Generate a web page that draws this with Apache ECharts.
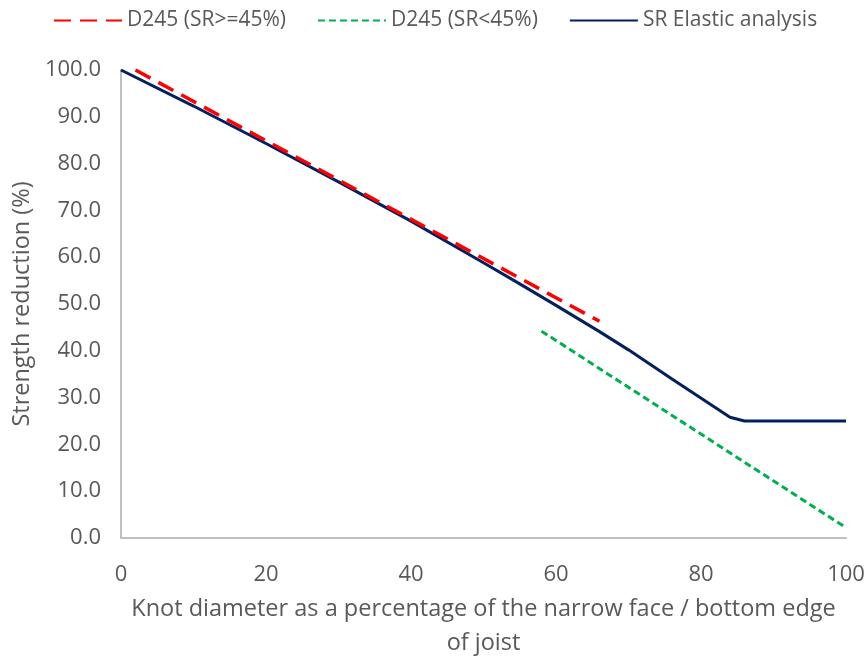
<!DOCTYPE html>
<html>
<head>
<meta charset="utf-8">
<title>Strength reduction</title>
<script src="https://cdn.jsdelivr.net/npm/echarts@6/dist/echarts.min.js"></script>
<style>
    html, body { margin: 0; padding: 0; background: #fff; }
    #chart { width: 865px; height: 657px; }
</style>
</head>
<body>
<div id="chart"></div>
<script>
// knot diameter (%) / strength reduction (%)
var seriesNames = ["D245 (SR>=45%)", "D245 (SR<45%)", "SR Elastic analysis"];
var d245HighX = [2, 66];
var d245HighY = [100, 46.3];
var d245LowX = [58, 100];
var d245LowY = [44.2, 2.2];
var elasticX = [0, 10, 20, 30, 40, 50, 55, 60, 66, 70, 76, 84, 86, 100];
var elasticY = [100, 92.3, 84.3, 76.1, 67.7, 58.8, 54.3, 49.7, 44.1, 40.2, 34.0, 25.8, 25.0, 25.0];
var xTicks = [0, 20, 40, 60, 80, 100];
var yTicks = [0, 10, 20, 30, 40, 50, 60, 70, 80, 90, 100];

function pairs(xs, ys) {
    var out = [];
    for (var i = 0; i < xs.length; i++) {
        out.push([xs[i], ys[i]]);
    }
    return out;
}

var font = "'Open Sans', sans-serif";
var grey = "#595959";

var chart = echarts.init(document.getElementById("chart"));
var option = {
    backgroundColor: "#fff",
    animation: false,
    textStyle: { fontFamily: font },
    legend: {
        top: 5,
        left: 48,
        itemWidth: 68,
        itemHeight: 12,
        itemGap: 31,
        itemStyle: { opacity: 0, borderWidth: 0 },
        textStyle: { fontFamily: font, fontSize: 21, color: grey },
        data: seriesNames
    },
    grid: { left: 121, right: 19, top: 70, bottom: 119, outerBoundsMode: "none" },
    xAxis: {
        type: "value",
        min: xTicks[0],
        max: xTicks[xTicks.length - 1],
        interval: 20,
        name: "Knot diameter as a percentage of the narrow face / bottom edge\nof joist",
        nameLocation: "middle",
        nameGap: 54,
        nameTextStyle: { fontFamily: font, fontSize: 23.5, color: grey, lineHeight: 34 },
        axisLine: { show: true, lineStyle: { color: "#bfbfbf", width: 2 } },
        axisTick: { show: false },
        splitLine: { show: false },
        axisLabel: { fontFamily: font, fontSize: 22, color: grey, margin: 26 }
    },
    yAxis: {
        type: "value",
        min: yTicks[0],
        max: yTicks[yTicks.length - 1],
        interval: 10,
        name: "Strength reduction (%)",
        nameLocation: "middle",
        nameGap: 86,
        nameTextStyle: { fontFamily: font, fontSize: 23.5, color: grey },
        axisLine: { show: true, lineStyle: { color: "#bfbfbf", width: 2 } },
        axisTick: { show: false },
        splitLine: { show: false },
        axisLabel: {
            fontFamily: font, fontSize: 22, color: grey, margin: 20,
            formatter: function (v) { return v.toFixed(1); }
        }
    },
    series: [
        {
            name: seriesNames[0],
            type: "line",
            symbol: "none",
            z: 3,
            lineStyle: { color: "#ff0000", width: 3.5, type: [17, 9] },
            itemStyle: { color: "#ff0000" },
            data: pairs(d245HighX, d245HighY)
        },
        {
            name: seriesNames[1],
            type: "line",
            symbol: "none",
            lineStyle: { color: "#00b050", width: 3, type: [7, 4] },
            itemStyle: { color: "#00b050" },
            data: pairs(d245LowX, d245LowY)
        },
        {
            name: seriesNames[2],
            type: "line",
            symbol: "none",
            z: 2,
            lineStyle: { color: "#002060", width: 3 },
            itemStyle: { color: "#002060" },
            data: pairs(elasticX, elasticY)
        }
    ]
};
chart.setOption(option);
</script>
</body>
</html>
